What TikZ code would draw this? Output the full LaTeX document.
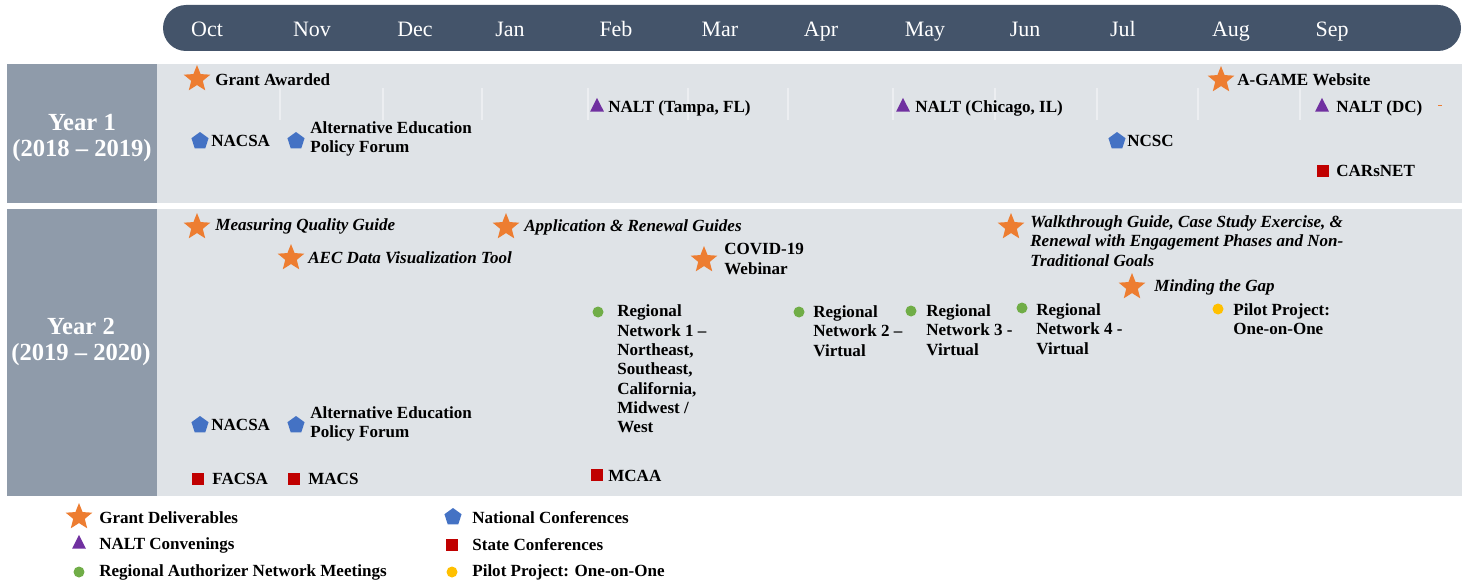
\documentclass[tikz,border=0pt]{standalone}
\usepackage{fontspec}
\setmainfont{Liberation Serif}
\usepackage{xcolor}
\usepackage{tikz}
\usetikzlibrary{shapes.geometric, positioning}
\definecolor{headcol}{HTML}{44546A}
\definecolor{yearcol}{RGB}{143,155,170}
\definecolor{rowcol}{RGB}{223,227,231}
\definecolor{sepcol}{RGB}{236,238,241}
\definecolor{delivcol}{HTML}{ED7D31}
\definecolor{natcol}{HTML}{4472C4}
\definecolor{naltcol}{HTML}{7030A0}
\definecolor{statecol}{HTML}{C00000}
\definecolor{regcol}{HTML}{70AD47}
\definecolor{pilotcol}{HTML}{FFC000}
\tikzset{
    delivmark/.style={
        star,
        star points=5,
        star point ratio=2.3,
        fill=delivcol,
        minimum size=0.56cm,
        inner sep=0pt
    },
    natmark/.style={
        regular polygon,
        regular polygon sides=5,
        fill=natcol,
        minimum size=0.36cm,
        inner sep=0pt
    },
    naltmark/.style={
        regular polygon,
        regular polygon sides=3,
        fill=naltcol,
        minimum size=0.32cm,
        yscale=1.15,
        inner sep=0pt
    },
    statemark/.style={
        rectangle,
        fill=statecol,
        minimum size=0.24cm,
        inner sep=0pt
    },
    regmark/.style={
        circle,
        fill=regcol,
        minimum size=0.22cm,
        inner sep=0pt
    },
    pilotmark/.style={
        circle,
        fill=pilotcol,
        minimum size=0.22cm,
        inner sep=0pt
    },
    evtext/.style={
        anchor=west,
        inner sep=0pt,
        align=left,
        font=\bfseries\fontsize{9.7}{11}\selectfont
    },
    evital/.style={
        evtext,
        font=\bfseries\itshape\fontsize{9.7}{11}\selectfont
    },
    monthtext/.style={
        text=white,
        text height=8.5pt,
        text depth=2.5pt,
        font=\fontsize{12.5}{14}\selectfont
    },
    yeartext/.style={
        text=white,
        align=center,
        font=\bfseries\fontsize{14}{15}\selectfont
    },
    sepline/.style={
        draw=sepcol,
        line width=0.6pt
    }
}

\begin{document}
\begin{tikzpicture}[x=0.02cm, y=-0.02cm]

\useasboundingbox (0,0) rectangle (1468,581);

% Month bar
\fill[headcol, rounded corners=0.46cm] (163,5) rectangle (1461,51);
\foreach \m/\x in {Oct/207, Nov/312, Dec/415, Jan/510, Feb/616, Mar/720, Apr/821, May/925, Jun/1025, Jul/1123, Aug/1231, Sep/1332}
    \node[monthtext] (month_\m) at (\x,31) {\m};

% Rows
\fill[rowcol] (7,64) rectangle (1462,203);
\fill[yearcol] (7,64) rectangle (157,203);
\fill[rowcol] (7,209) rectangle (1462,496);
\fill[yearcol] (7,209) rectangle (157,496);
\node[yeartext] (year_one) at (82,138) {Year 1\\(2018 – 2019)};
\node[yeartext] (year_two) at (81,342) {Year 2\\(2019 – 2020)};

% Faint month separators
\foreach \x in {280,383,482,588,688,788,893,995,1097,1198,1300}
    \draw[sepline] (\x,88) -- (\x,120);
\draw[delivcol, line width=0.5pt] (1438,105) -- (1442,105);

% Year 1 events
\node[delivmark] (grant_star) at (197,79) {};
\node[evtext] (grant_txt) at (215,80) {Grant Awarded};
\node[delivmark] (agame_star) at (1221,80) {};
\node[evtext] (agame_txt) at (1237,80) {A-GAME Website};

\node[naltmark] (tampa_tri) at (597,107) {};
\node[evtext] (tampa_txt) at (608,108) {NALT (Tampa, FL)};
\node[naltmark] (chicago_tri) at (903,107) {};
\node[evtext] (chicago_txt) at (915,108) {NALT (Chicago, IL)};
\node[naltmark] (dc_tri) at (1322,107) {};
\node[evtext] (dc_txt) at (1336,108) {NALT (DC)};

\node[natmark] (nacsa_one) at (200,141) {};
\node[evtext] (nacsa_one_txt) at (211,141) {NACSA};
\node[natmark] (altedu_one) at (296,141) {};
\node[evtext] (altedu_one_txt) at (310,139) {Alternative Education\\Policy Forum};
\node[natmark] (ncsc) at (1117,141) {};
\node[evtext] (ncsc_txt) at (1127,141) {NCSC};

\node[statemark] (carsnet) at (1323,171) {};
\node[evtext] (carsnet_txt) at (1336,171) {CARsNET};

% Year 2 events
\node[delivmark] (mqg_star) at (197,227) {};
\node[evital] (mqg_txt) at (215,226) {Measuring Quality Guide};
\node[delivmark] (aec_star) at (291,258) {};
\node[evital] (aec_txt) at (308,258) {AEC Data Visualization Tool};
\node[delivmark] (arg_star) at (506,227) {};
\node[evital] (arg_txt) at (524,227) {Application \& Renewal Guides};
\node[delivmark] (covid_star) at (704,260) {};
\node[evtext] (covid_txt) at (724,259) {COVID-19\\Webinar};
\node[delivmark] (walk_star) at (1011,227) {};
\node[evital] (walk_txt) at (1030,241) {Walkthrough Guide, Case Study Exercise, \&\\Renewal with Engagement Phases and Non-\\Traditional Goals};
\node[delivmark] (gap_star) at (1132,287) {};
\node[evital] (gap_txt) at (1154,287) {Minding the Gap};

\node[regmark] (reg_one) at (598,312) {};
\node[evtext] (reg_one_txt) at (617,369) {Regional\\Network 1 –\\Northeast,\\Southeast,\\California,\\Midwest /\\West};
\node[regmark] (reg_two) at (799,312) {};
\node[evtext] (reg_two_txt) at (813,331) {Regional\\Network 2 –\\Virtual};
\node[regmark] (reg_three) at (911,311) {};
\node[evtext] (reg_three_txt) at (926,330) {Regional\\Network 3 -\\Virtual};
\node[regmark] (reg_four) at (1022,308) {};
\node[evtext] (reg_four_txt) at (1036,329) {Regional\\Network 4 -\\Virtual};
\node[pilotmark] (pilot) at (1218,309) {};
\node[evtext] (pilot_txt) at (1233,319) {Pilot Project:\\One-on-One};

\node[natmark] (nacsa_two) at (200,425) {};
\node[evtext] (nacsa_two_txt) at (211,425) {NACSA};
\node[natmark] (altedu_two) at (296,425) {};
\node[evtext] (altedu_two_txt) at (310,424) {Alternative Education\\Policy Forum};

\node[statemark] (facsa) at (198,479) {};
\node[evtext] (facsa_txt) at (212,479) {FACSA};
\node[statemark] (macs) at (294,479) {};
\node[evtext] (macs_txt) at (308,479) {MACS};
\node[statemark] (mcaa) at (597,475) {};
\node[evtext] (mcaa_txt) at (608,476) {MCAA};

% Legend
\node[delivmark] (leg_deliv) at (79,517) {};
\node[evtext] (leg_deliv_txt) at (99,518) {Grant Deliverables};
\node[naltmark] (leg_nalt) at (79,544) {};
\node[evtext] (leg_nalt_txt) at (99,545) {NALT Convenings};
\node[regmark] (leg_reg) at (79,572) {};
\node[evtext] (leg_reg_txt) at (99,572) {Regional Authorizer Network Meetings};
\node[natmark] (leg_nat) at (453,517) {};
\node[evtext] (leg_nat_txt) at (472,518) {National Conferences};
\node[statemark] (leg_state) at (452,545) {};
\node[evtext] (leg_state_txt) at (472,545) {State Conferences};
\node[pilotmark] (leg_pilot) at (452,572) {};
\node[evtext] (leg_pilot_txt) at (472,572) {Pilot Project: One-on-One};

\end{tikzpicture}
\end{document}
